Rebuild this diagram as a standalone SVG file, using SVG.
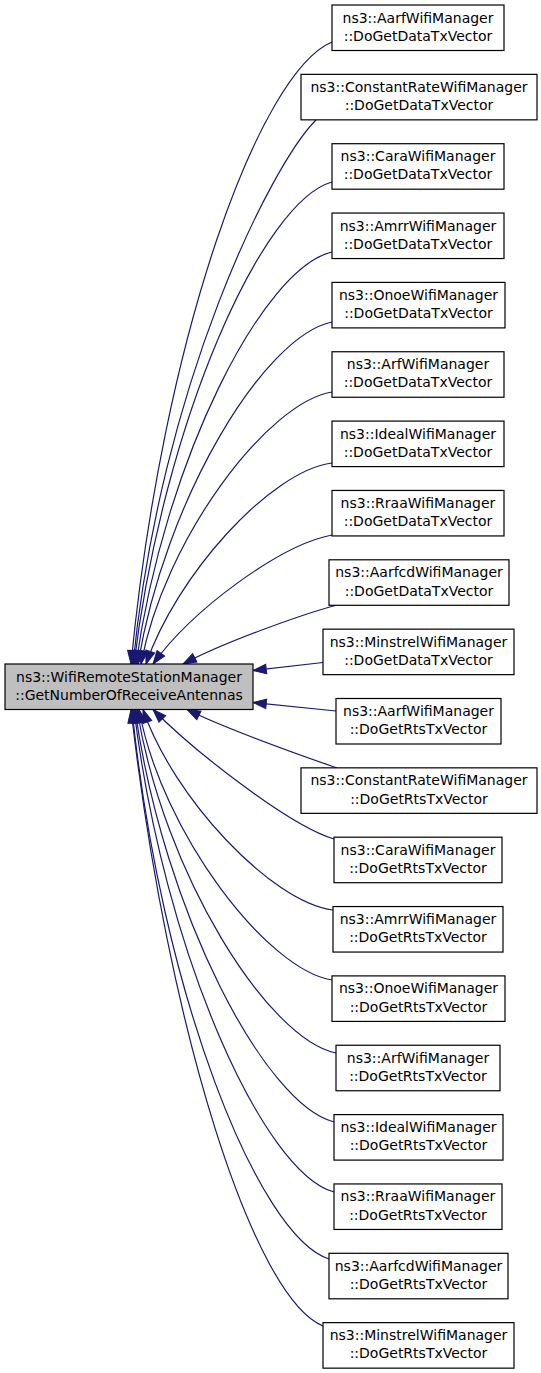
<svg xmlns="http://www.w3.org/2000/svg" width="541" height="1373" viewBox="0 0 541 1373">
<style>
.n rect{fill:#ffffff;stroke:#000000;stroke-width:1.2}
.root rect{fill:#bfbfbf;stroke:#000000;stroke-width:1.2}
text{font-family:"DejaVu Sans","Liberation Sans",sans-serif;font-size:14px;fill:#000000;text-anchor:middle}
.e path{fill:none;stroke:#191970;stroke-width:1.2;marker-end:url(#ah)}
</style>
<defs>
<marker id="ah" markerUnits="userSpaceOnUse" markerWidth="16" markerHeight="12" refX="13.3" refY="4.7" orient="auto" viewBox="0 0 16 12" overflow="visible">
<path d="M0,0 L13.3,4.7 L0,9.4 z" fill="#191970" stroke="#191970" stroke-width="1"/>
</marker>
</defs>
<g id="connectors" class="e">
<path d="M332,42 C260,72 163,334 131,664"/>
<path d="M316,120 C271,165 161,384 133,664"/>
<path d="M332,182 C263,201 164,419 134,664"/>
<path d="M332,252 C263,268 165,459 136,664"/>
<path d="M332,322 C264,336 165,499 138,664"/>
<path d="M332,392 C268,402 164,539 141,664"/>
<path d="M332,463 C270,471 176,576 146,664"/>
<path d="M332,535 C280,545 193,609 153,664"/>
<path d="M337,605 C300,615 225,642 183,664"/>
<path d="M323,662.5 L253,670.5"/>
<path d="M336,711 L253,702.5"/>
<path d="M337,768 C300,755 228,730 187,709.5"/>
<path d="M334,839 C290,826 195,752 153,709.5"/>
<path d="M333,910 C271,902 173,797.5 143,709.5"/>
<path d="M332,980 C268,970 162,834.5 139,709.5"/>
<path d="M336,1053 C268,1039 164,874.5 137,709.5"/>
<path d="M334,1122 C266,1105 164,914.5 135,709.5"/>
<path d="M334,1192 C264,1173 164,954.5 134,709.5"/>
<path d="M329,1259 C259,1237 161,994.5 132,709.5"/>
<path d="M323,1326 C254,1298 168,1032 131,709.5"/>
</g>
<g id="root" class="root"><rect x="5" y="664" width="248" height="45.5"/><text x="129" y="681.5">ns3::WifiRemoteStationManager</text><text x="129" y="699.5">::GetNumberOfReceiveAntennas</text></g>
<g id="n0" class="n"><rect x="332" y="5" width="172" height="45.5"/><text x="418" y="22.5">ns3::AarfWifiManager</text><text x="418" y="40.7">::DoGetDataTxVector</text></g>
<g id="n1" class="n"><rect x="301" y="74.35" width="236" height="45.5"/><text x="419" y="91.85">ns3::ConstantRateWifiManager</text><text x="419" y="110.05">::DoGetDataTxVector</text></g>
<g id="n2" class="n"><rect x="332" y="143.7" width="172" height="45.5"/><text x="418" y="161.2">ns3::CaraWifiManager</text><text x="418" y="179.4">::DoGetDataTxVector</text></g>
<g id="n3" class="n"><rect x="332" y="213.05" width="172" height="45.5"/><text x="418" y="230.55">ns3::AmrrWifiManager</text><text x="418" y="248.75">::DoGetDataTxVector</text></g>
<g id="n4" class="n"><rect x="332" y="282.4" width="173" height="45.5"/><text x="418.5" y="299.9">ns3::OnoeWifiManager</text><text x="418.5" y="318.1">::DoGetDataTxVector</text></g>
<g id="n5" class="n"><rect x="332" y="351.75" width="172" height="45.5"/><text x="418" y="369.25">ns3::ArfWifiManager</text><text x="418" y="387.45">::DoGetDataTxVector</text></g>
<g id="n6" class="n"><rect x="332" y="421.1" width="172" height="45.5"/><text x="418" y="438.6">ns3::IdealWifiManager</text><text x="418" y="456.8">::DoGetDataTxVector</text></g>
<g id="n7" class="n"><rect x="332" y="490.45" width="172" height="45.5"/><text x="418" y="507.95">ns3::RraaWifiManager</text><text x="418" y="526.15">::DoGetDataTxVector</text></g>
<g id="n8" class="n"><rect x="329" y="559.8" width="180" height="45.5"/><text x="419" y="577.3">ns3::AarfcdWifiManager</text><text x="419" y="595.5">::DoGetDataTxVector</text></g>
<g id="n9" class="n"><rect x="323" y="629.15" width="191" height="45.5"/><text x="418.5" y="646.65">ns3::MinstrelWifiManager</text><text x="418.5" y="664.85">::DoGetDataTxVector</text></g>
<g id="n10" class="n"><rect x="336" y="698.5" width="165" height="45.5"/><text x="418.5" y="716">ns3::AarfWifiManager</text><text x="418.5" y="734.2">::DoGetRtsTxVector</text></g>
<g id="n11" class="n"><rect x="301" y="767.85" width="236" height="45.5"/><text x="419" y="785.35">ns3::ConstantRateWifiManager</text><text x="419" y="803.55">::DoGetRtsTxVector</text></g>
<g id="n12" class="n"><rect x="334" y="837.2" width="168" height="45.5"/><text x="418" y="854.7">ns3::CaraWifiManager</text><text x="418" y="872.9">::DoGetRtsTxVector</text></g>
<g id="n13" class="n"><rect x="333" y="906.55" width="170" height="45.5"/><text x="418" y="924.05">ns3::AmrrWifiManager</text><text x="418" y="942.25">::DoGetRtsTxVector</text></g>
<g id="n14" class="n"><rect x="332" y="975.9" width="173" height="45.5"/><text x="418.5" y="993.4">ns3::OnoeWifiManager</text><text x="418.5" y="1011.6">::DoGetRtsTxVector</text></g>
<g id="n15" class="n"><rect x="336" y="1045.25" width="164" height="45.5"/><text x="418" y="1062.75">ns3::ArfWifiManager</text><text x="418" y="1080.95">::DoGetRtsTxVector</text></g>
<g id="n16" class="n"><rect x="334" y="1114.6" width="169" height="45.5"/><text x="418.5" y="1132.1">ns3::IdealWifiManager</text><text x="418.5" y="1150.3">::DoGetRtsTxVector</text></g>
<g id="n17" class="n"><rect x="334" y="1183.95" width="168" height="45.5"/><text x="418" y="1201.45">ns3::RraaWifiManager</text><text x="418" y="1219.65">::DoGetRtsTxVector</text></g>
<g id="n18" class="n"><rect x="329" y="1253.3" width="179" height="45.5"/><text x="418.5" y="1270.8">ns3::AarfcdWifiManager</text><text x="418.5" y="1289">::DoGetRtsTxVector</text></g>
<g id="n19" class="n"><rect x="323" y="1322.65" width="191" height="45.5"/><text x="418.5" y="1340.15">ns3::MinstrelWifiManager</text><text x="418.5" y="1358.35">::DoGetRtsTxVector</text></g>
</svg>
